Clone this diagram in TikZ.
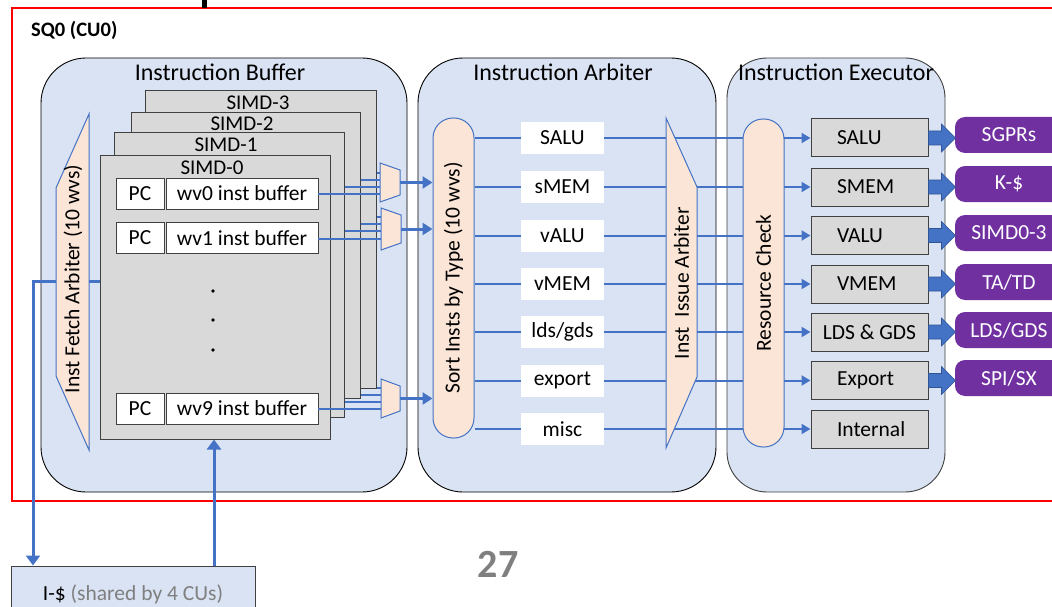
\documentclass[tikz,border=0pt]{standalone}
\usepackage{fontspec}
\setmainfont{Carlito}
\usetikzlibrary{arrows.meta,calc}
\definecolor{panelblue}{HTML}{DAE3F3}
\definecolor{peach}{HTML}{FBE5D6}
\definecolor{lnblue}{HTML}{4472C4}
\definecolor{darkblue}{HTML}{2F5597}
\definecolor{unitgray}{HTML}{D9D9D9}
\definecolor{purp}{HTML}{7030A0}
\definecolor{edgegray}{HTML}{404040}
\definecolor{txtgray}{HTML}{7F7F7F}
\begin{document}
\begin{tikzpicture}[x=1pt,y=-1pt,
  txt/.style={font=\fontsize{21.5}{24}\selectfont},
  panel/.style={draw=black, line width=0.9pt, fill=panelblue, rounded corners=45pt, inner sep=0pt},
  ptitle/.style={font=\fontsize{24}{26}\selectfont, anchor=base, inner sep=0pt},
  simd/.style={draw=edgegray, line width=1pt, fill=unitgray, inner sep=0pt},
  stitle/.style={font=\fontsize{21}{22}\selectfont, anchor=base, inner sep=0pt},
  wbox/.style={txt, draw=edgegray, fill=white, line width=0.9pt, minimum height=31pt, inner sep=0pt},
  wire/.style={draw=lnblue, line width=1.2pt},
  bus/.style={draw=lnblue, line width=2pt},
  fatbus/.style={draw=lnblue, line width=3pt},
  peachshape/.style={draw=lnblue, fill=peach, line width=1pt},
  pill/.style={peachshape, rounded corners=20pt, minimum width=41pt, inner sep=0pt},
  lbl/.style={txt, fill=white, minimum width=83pt, minimum height=32pt, inner sep=0pt},
  unit/.style={txt, draw=edgegray, fill=unitgray, line width=1pt, minimum width=117pt, minimum height=38pt, inner sep=0pt, text width=65pt, align=left},
  unitc/.style={txt, draw=edgegray, fill=unitgray, line width=1pt, minimum width=117pt, minimum height=38pt, inner sep=0pt},
  dest/.style={txt, fill=purp, text=white, rounded corners=10pt, minimum width=108pt, minimum height=36pt, inner sep=0pt},
  fatarrow/.style={fill=lnblue, draw=darkblue, line width=0.6pt, line join=miter},
  tipS/.style={-{Triangle[length=9pt,width=10pt]}},
  tipM/.style={-{Triangle[length=10pt,width=12pt]}},
  tipL/.style={-{Triangle[length=10pt,width=14pt]}}
]
\useasboundingbox (0,0) rectangle (1052,607);

% frame and header
\draw[red, line width=1.3pt] (12,8) rectangle (1080,501);
\fill (202,0) rectangle (207,8);
\node[anchor=base west, inner sep=0pt, font=\bfseries\fontsize{20.5}{22}\selectfont] (sq) at (31,37) {SQ0 (CU0)};

% panels
\node[panel, minimum width=366pt, minimum height=434pt] (ib) at (224,275) {};
\node[panel, minimum width=298pt, minimum height=434pt] (ia) at (567,275) {};
\node[panel, draw=edgegray, rounded corners=40pt, minimum width=218pt, minimum height=434pt] (ie) at (836,275) {};
\node[ptitle] (ibt) at (220,81) {Instruction Buffer};
\node[ptitle] (iat) at (563,81) {Instruction Arbiter};
\node[ptitle] (iet) at (836,81) {Instruction Executor};

% SIMD stacks
\node[simd, minimum width=231pt, minimum height=297pt] (s3) at (260.5,239.5) {};
\node[stitle] at (258,110) {SIMD-3};
\node[simd, minimum width=229pt, minimum height=285pt] (s2) at (245.5,255.5) {};
\node[stitle] at (242,130.5) {SIMD-2};
\node[simd, minimum width=230pt, minimum height=284pt] (s1) at (229,275) {};
\node[stitle] at (226,152) {SIMD-1};
\node[simd, minimum width=230pt, minimum height=283pt] (s0) at (215,297.5) {};
\node[stitle] at (212,174.5) {SIMD-0};

\node[wbox, minimum width=48pt] (pc0) at (140,193.5) {PC};
\node[wbox, minimum width=152pt] (wv0) at (242,193.5) {wv0 inst buffer};
\node[wbox, minimum width=48pt] (pc1) at (140,238) {PC};
\node[wbox, minimum width=152pt] (wv1) at (242,238) {wv1 inst buffer};
\node[wbox, minimum width=48pt] (pc9) at (140,408.5) {PC};
\node[wbox, minimum width=152pt] (wv9) at (242,408.5) {wv9 inst buffer};
\fill (213,291) circle (1.8pt);
\fill (213,320) circle (1.8pt);
\fill (213,350) circle (1.8pt);

% fetch arbiter
\draw[peachshape] (56,188) -- (89,114) -- (89,450) -- (56,376) -- cycle;
\node[txt, rotate=90, inner sep=0pt] (fa) at (73,279) {Inst Fetch Arbiter (10 wvs)};
\coordinate (faw) at (56,281);
\coordinate (fae) at (89,281);
\coordinate (fl) at (33,281);
\coordinate (upx) at (214,0);

% I-cache
\node[txt, draw=edgegray, fill=panelblue, line width=1pt, minimum width=244pt, minimum height=56pt, inner sep=0pt] (ic) at (133,594) {I-\$ \textcolor{txtgray}{(shared by 4 CUs)}};
\draw[fatbus] (fae) -- (s0.west |- fae);
\draw[fatbus, tipL, line join=miter] (faw) -- (fl) -- (fl |- ic.north);
\draw[fatbus, tipL] (ic.north -| upx) -- (s0.south -| upx);

% mux inputs
\coordinate (m0a) at (380,173); \coordinate (m0b) at (380,180);
\coordinate (m0c) at (380,187); \coordinate (m0d) at (380,194);
\coordinate (m1a) at (381,217); \coordinate (m1b) at (381,224);
\coordinate (m1c) at (381,231); \coordinate (m1d) at (381,239);
\coordinate (m2a) at (381,388); \coordinate (m2b) at (381,395);
\coordinate (m2c) at (381,402); \coordinate (m2d) at (381,409);
\draw[wire] (s3.east |- m0a) -- (m0a);
\draw[wire] (s2.east |- m0b) -- (m0b);
\draw[wire] (s1.east |- m0c) -- (m0c);
\draw[wire] (wv0.east |- m0d) -- (m0d);
\draw[wire] (s3.east |- m1a) -- (m1a);
\draw[wire] (s2.east |- m1b) -- (m1b);
\draw[wire] (s1.east |- m1c) -- (m1c);
\draw[wire] (wv1.east |- m1d) -- (m1d);
\draw[wire] (s3.east |- m2a) -- (m2a);
\draw[wire] (s2.east |- m2b) -- (m2b);
\draw[wire] (s1.east |- m2c) -- (m2c);
\draw[wire] (wv9.east |- m2d) -- (m2d);

% muxes
\draw[peachshape] (380,163) -- (400,170) -- (400,195) -- (380,202) -- cycle;
\draw[peachshape] (381,208) -- (401,215) -- (401,243) -- (381,250) -- cycle;
\draw[peachshape] (381,379) -- (400,386) -- (400,411) -- (381,418) -- cycle;
\coordinate (m0o) at (400,182.5);
\coordinate (m1o) at (401,229);
\coordinate (m2o) at (400,398.5);

% sort box
\node[pill, minimum height=320pt] (sort) at (453.5,278) {};
\node[txt, rotate=90, inner sep=0pt] at (sort.center) {Sort Insts by Type (10 wvs)};
\draw[fatbus, tipM] (m0o) -- (sort.west |- m0o);
\draw[fatbus, tipM] (m1o) -- (sort.west |- m1o);
\draw[fatbus, tipM] (m2o) -- (sort.west |- m2o);

% execution units (placed first for connectors)
\node[unit] (u1) at (869.5,138) {SALU};
\node[unit] (u2) at (869.5,187) {SMEM};
\node[unit] (u3) at (869.5,235.5) {VALU};
\node[unit] (u4) at (869.5,284) {VMEM};
\node[unitc] (u5) at (869.5,332) {LDS \& GDS};
\node[unit] (u6) at (869.5,380.5) {Export};
\node[unit] (u7) at (869.5,429) {Internal};

% row connectors
\foreach \u in {u1,u2,u3,u4,u5,u6,u7}
  \draw[bus, tipS] (sort.east |- \u) -- (\u.west);

% issue arbiter
\draw[peachshape] (666,118) -- (697,187) -- (697,377) -- (666,448) -- cycle;
\node[txt, rotate=90, inner sep=0pt] (iss) at (681.5,283) {Inst\ \ Issue Arbiter};

% resource check
\node[pill, minimum height=328pt] (rc) at (763.5,283) {};
\node[txt, rotate=90, inner sep=0pt] at (rc.center) {Resource Check};

% type labels
\node[lbl] at (562.5,138) {SALU};
\node[lbl] at (562.5,187) {sMEM};
\node[lbl] at (562.5,235.5) {vALU};
\node[lbl] at (562.5,284) {vMEM};
\node[lbl] at (562.5,332) {lds/gds};
\node[lbl] at (562.5,380.5) {export};
\node[lbl] at (562.5,429) {misc};

% destinations
\node[dest] (p1) at (1009,135) {SGPRs};
\node[dest] (p2) at (1009,184) {K-\$};
\node[dest] (p3) at (1009,233) {SIMD0-3};
\node[dest] (p4) at (1009,282) {TA/TD};
\node[dest] (p5) at (1009,330) {LDS/GDS};
\node[dest] (p6) at (1009,378) {SPI/SX};

\foreach \u/\p in {u1/p1,u2/p2,u3/p3,u4/p4,u5/p5,u6/p6}
  \draw[fatarrow, shift={(\u.east)}] (0,-7) -- (13,-7) -- (13,-14) -- (27,0) -- (13,14) -- (13,7) -- (0,7) -- cycle;

% page number
\node[font=\bfseries\fontsize{40}{44}\selectfont, text=txtgray, inner sep=0pt] (pg) at (498,564) {27};
\end{tikzpicture}
\end{document}
